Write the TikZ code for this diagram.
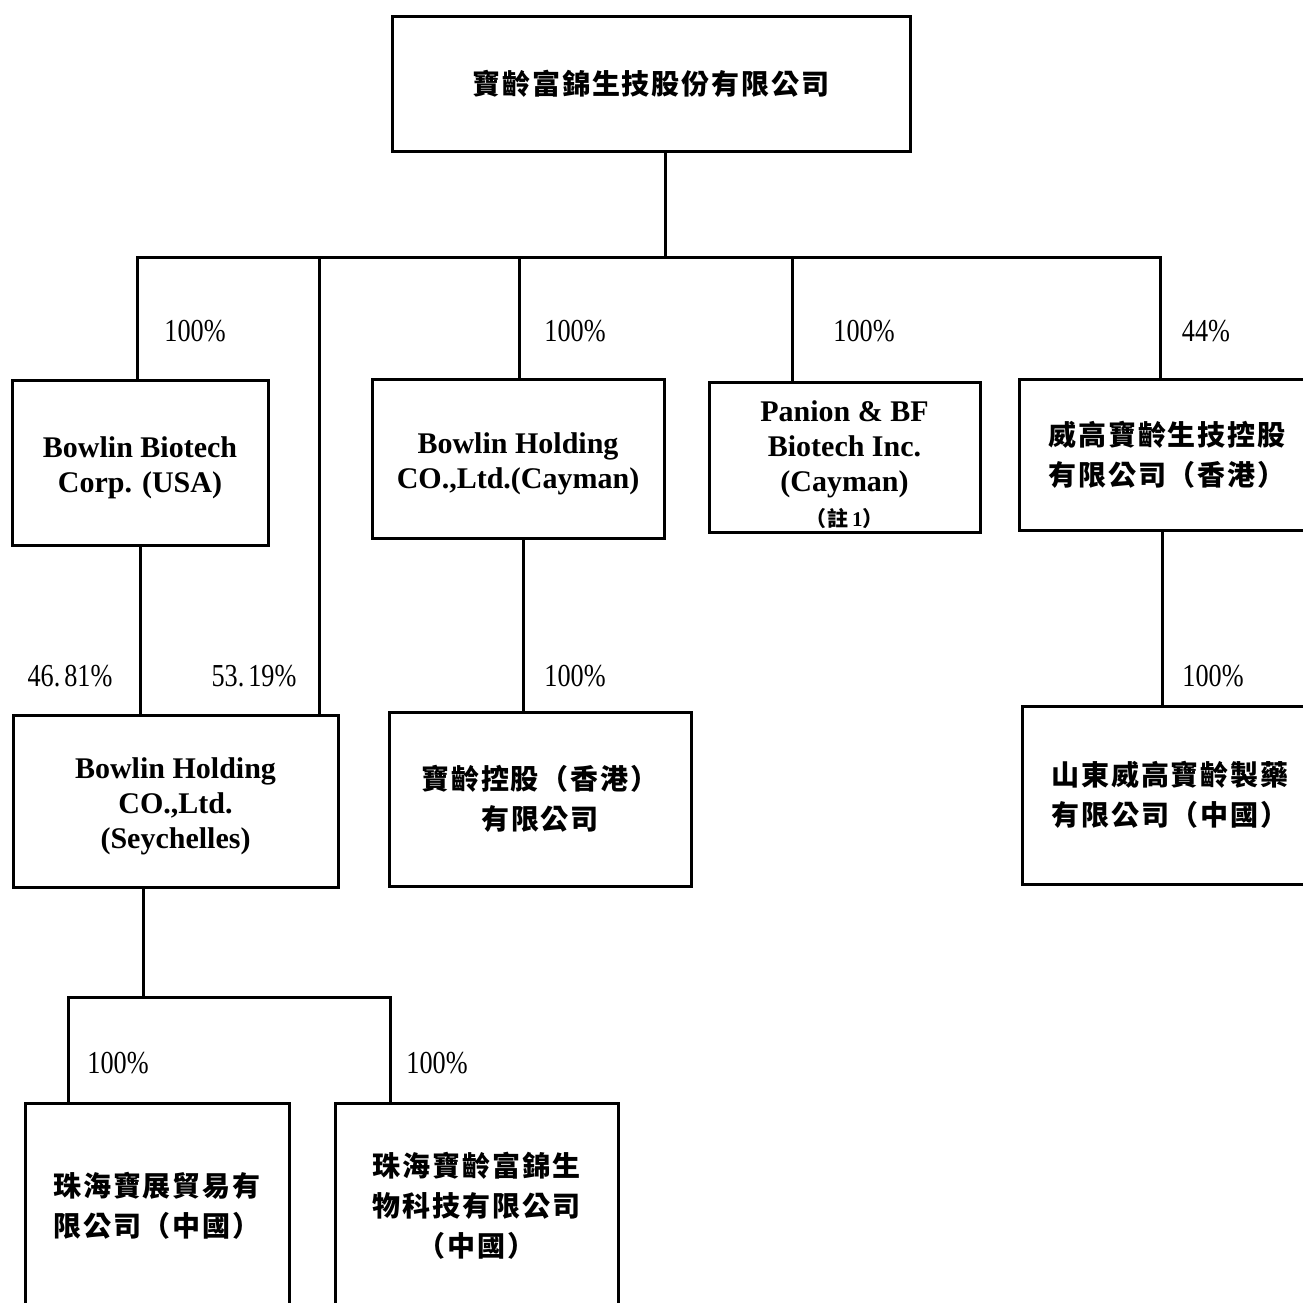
\documentclass[tikz,border=0pt]{standalone}
\usepackage{fontspec}
\setmainfont{Liberation Serif}
\newfontfamily\cjk[LetterSpace=7]{Noto Sans CJK TC}
\newfontfamily\pct[FakeStretch=0.82]{Liberation Serif}
\usetikzlibrary{positioning}

\newcommand{\lift}[1][31pt]{\rule{0pt}{#1}}

\tikzset{
	firm/.style={shape=rectangle, draw, line width=3pt, inner sep=0pt, align=center},
	efirm/.style={firm, font=\fontsize{30}{35}\selectfont\bfseries},
	cfirm/.style={firm, font=\fontsize{28}{40}\selectfont\cjk\bfseries},
	share/.style={inner sep=0pt, font=\fontsize{32}{32}\selectfont\pct},
}

\begin{document}
\begin{tikzpicture}[x=1pt, y=-1pt, line width=3pt]
	\useasboundingbox (0,0) rectangle (1303,1302);
	\clip (0,0) rectangle (1303,1302);

	\node[cfirm, minimum width=518, minimum height=135] (top) at (651,83.5) {寶齡富錦生技股份有限公司};
	\node[efirm, minimum width=256, minimum height=165] (usa) at (140,462.5) {\lift Bowlin Biotech\\Corp. (USA)};
	\node[efirm, minimum width=292, minimum height=159] (cayman) at (518,458.5) {\lift Bowlin Holding\\CO.,Ltd.(Cayman)};
	\node[efirm, minimum width=271, minimum height=150] (panion) at (844.5,457) {\lift[37pt]Panion \& BF\\Biotech Inc.\\(Cayman)\\\fontsize{21}{24}\selectfont{\cjk （註}\,1{\cjk ）}};
	\node[cfirm, minimum width=296, minimum height=151] (wego) at (1167,454.5) {威高寶齡生技控股\\有限公司（香港）};
	\node[efirm, minimum width=325, minimum height=172] (seych) at (175.5,801) {\lift Bowlin Holding\\CO.,Ltd.\\(Seychelles)};
	\node[cfirm, minimum width=302, minimum height=174] (hk) at (540,799) {寶齡控股（香港）\\有限公司};
	\node[cfirm, minimum width=296, minimum height=178] (shandong) at (1170,795) {山東威高寶齡製藥\\有限公司（中國）};
	\node[cfirm, minimum width=264, minimum height=205] (trade) at (157,1205.5) {珠海寶展貿易有\\限公司（中國）};
	\node[cfirm, minimum width=283, minimum height=205] (bio) at (476.5,1205.5) {珠海寶齡富錦生\\物科技有限公司\\（中國）};

	% shares
	\node[share] (p1) at (195,331) {100\%};
	\node[share] (p2) at (575,331) {100\%};
	\node[share] (p3) at (864,331) {100\%};
	\node[share] (p4) at (1206,331) {44\%};
	\node[share] (p5) at (70,676) {46.\kern4pt 81\%};
	\node[share] (p6) at (254,676) {53.\kern4pt 19\%};
	\node[share] (p7) at (575,676) {100\%};
	\node[share] (p8) at (1213,676) {100\%};
	\node[share] (p9) at (118,1063) {100\%};
	\node[share] (p10) at (437,1063) {100\%};

	% links
	\coordinate (bus) at (665,257);
	\coordinate (b1) at (137,257);
	\coordinate (b2) at (319,257);
	\coordinate (b3) at (519,257);
	\coordinate (b4) at (792,257);
	\coordinate (b5) at (1160,257);
	\coordinate (k) at ([xshift=5]cayman.south);
	\coordinate (w) at ([xshift=-5]wego.south);
	\coordinate (s) at (143,997);
	\coordinate (c1) at (68,997);
	\coordinate (c2) at (390,997);

	\path [-] (top.south -| bus) edge (bus);
	\draw (b1 |- usa.north) -- (b1) -- (b5) -- (b5 |- wego.north);
	\path [-] (b2) edge (b2 |- seych.north);
	\path [-] (b3) edge (b3 |- cayman.north);
	\path [-] (b4) edge (b4 |- panion.north);
	\path [-] (usa.south) edge (usa.south |- seych.north);
	\path [-] (k) edge (k |- hk.north);
	\path [-] (w) edge (w |- shandong.north);
	\path [-] (s |- seych.south) edge (s);
	\draw (c1 |- trade.north) -- (c1) -- (c2) -- (c2 |- bio.north);
\end{tikzpicture}
\end{document}
